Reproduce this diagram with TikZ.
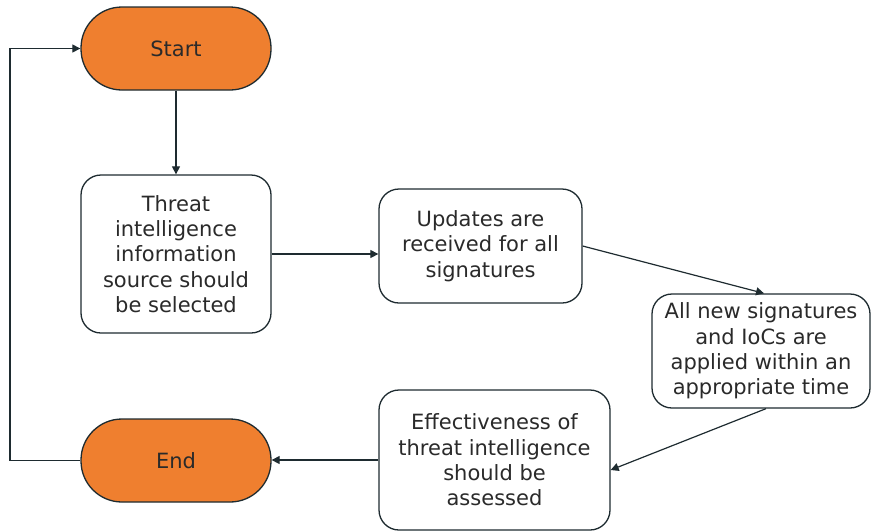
\documentclass[tikz,border=0pt]{standalone}
\usepackage{fontspec}
\setmainfont{DejaVu Sans}
\usetikzlibrary{arrows.meta}
\definecolor{flowline}{HTML}{1E2B30}
\definecolor{flowtext}{HTML}{2A2A2A}
\definecolor{terminal}{HTML}{EF7F2F}
\begin{document}
\begin{tikzpicture}[x=1pt,y=-1pt,
  every node/.style={font=\fontsize{21}{25.3}\selectfont, text=flowtext, align=center, inner sep=0pt},
  terminalbox/.style={draw=flowline, line width=1.3pt, fill=terminal, rounded corners=41pt,
    minimum width=190pt, minimum height=83pt},
  stepbox/.style={draw=flowline, line width=1.3pt, fill=white, rounded corners=20pt},
  link/.style={draw=flowline, line width=1.2pt, -{Triangle[length=8pt,width=8pt]}}
]
\useasboundingbox (0,0) rectangle (874,531);

\node[terminalbox] (start) at (176,48.5) {Start};
\node[stepbox, minimum width=190pt, minimum height=158pt] (select) at (176,254)
  {Threat\\intelligence\\information\\source should\\be selected};
\node[stepbox, minimum width=203pt, minimum height=114pt] (updates) at (480.5,246)
  {Updates are\\received for all\\signatures};
\node[stepbox, minimum width=218pt, minimum height=114pt] (apply) at (761,351)
  {All new signatures\\and IoCs are\\applied within an\\appropriate time};
\node[stepbox, minimum width=231pt, minimum height=140pt] (assess) at (494.5,460)
  {Effectiveness of\\threat intelligence\\should be\\assessed};
\node[terminalbox] (finish) at (176,460.5) {End};

\coordinate (loop) at (10,0);

\draw[link] (start.south) -- (select.north);
\draw[link] (select.east) -- (select.east -| updates.west);
\draw[link] (updates.east) -- ([xshift=3pt]apply.north);
\draw[link] ([xshift=5pt]apply.south) -- ([yshift=-10pt]assess.east);
\draw[link] (assess.west) -- (assess.west -| finish.east);
\draw[link] (finish.west) -- (finish.west -| loop) |- (start.west);
\end{tikzpicture}
\end{document}
